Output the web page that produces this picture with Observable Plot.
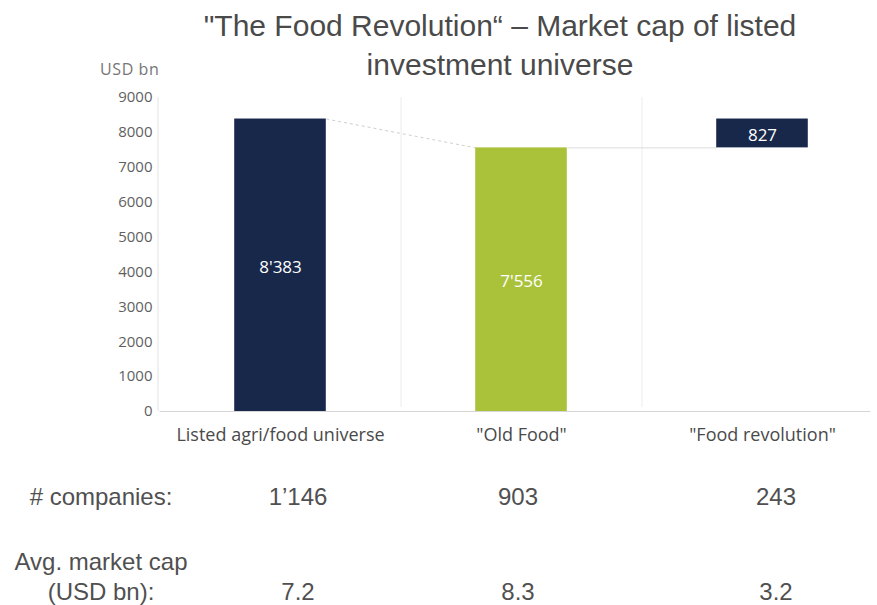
<!DOCTYPE html>
<html>
<head>
<meta charset="utf-8">
<script src="https://cdn.jsdelivr.net/npm/d3@7"></script>
<script src="https://cdn.jsdelivr.net/npm/@observablehq/plot@0.6"></script>
<style>
  html, body { margin: 0; padding: 0; background: #fff; }
  #wrap { position: relative; width: 877px; height: 605px; overflow: hidden; font-family: "Liberation Sans", Arial, sans-serif; }
  .title { position: absolute; left: 100px; width: 800px; text-align: center; font-size: 30px; color: #4a4a4a; line-height: 39px; white-space: nowrap; }
  .unit { position: absolute; left: 100px; top: 58px; font-family: "Open Sans", sans-serif; font-size: 16px; letter-spacing: 0.6px; color: #767676; }
  .cell { position: absolute; transform: translateX(-50%); white-space: nowrap; font-size: 24px; color: #505050; text-align: center; line-height: 30px; }
  #chart { position: absolute; left: 0; top: 0; }
</style>
</head>
<body>
<div id="wrap">
  <div id="chart"></div>
</div>
<script>
// ---- data ----
const titleLines = ["\"The Food Revolution\u201c \u2013 Market cap of listed", "investment universe"];
const unitLabel = "USD bn";
const categories = ["Listed agri/food universe", "\"Old Food\"", "\"Food revolution\""];
const marketCap = [8383, 7556, 827];      // USD bn
const barColors = ["#18284b", "#aac23a", "#18284b"];
const yTicks = [0, 1000, 2000, 3000, 4000, 5000, 6000, 7000, 8000, 9000];
const rowLabels = ["# companies:", "Avg. market cap\n(USD bn):"];
const companies = ["1\u2019146", "903", "243"];
const avgCap = ["7.2", "8.3", "3.2"];

// ---- layout constants ----
const W = 877, H = 460;
const halfBar = 0.19;              // bar half width in band units
const tableColX = [298, 518, 776];  // table column centres (px)
const tableLabelX = 101;

// bars: first two stand on 0, the last one floats on top of "Old Food"
const bars = categories.map((c, i) => {
  const y1 = i === 2 ? marketCap[1] : 0;
  return {i, cat: c, y1, y2: y1 + marketCap[i], label: d3.format(",")(marketCap[i]).replace(/,/g, "'"), color: barColors[i]};
});
const separators = categories.slice(0, -1).map((c, i) => i + 0.5);
const connectors = [
  {x1: 0 + halfBar, y1: bars[0].y2, x2: 1 - halfBar, y2: bars[1].y2, dash: "3,3", stroke: "#cfcfcf"},
  {x1: 1 + halfBar, y1: bars[1].y2, x2: 2 - halfBar, y2: bars[2].y1, dash: null, stroke: "#dcdcdc"}
];

const plot = Plot.plot({
  width: W,
  height: H,
  marginTop: 97,
  marginBottom: 49,
  marginLeft: 158,
  marginRight: 0,
  style: {fontFamily: "'Open Sans', sans-serif", background: "transparent", overflow: "visible"},
  x: {type: "linear", domain: [-0.5, 2.5], range: [159.5, 882.5], axis: null},
  y: {domain: [0, 9000], axis: null},
  marks: [
    Plot.ruleX(separators, {x: d => d, y1: 0, y2: 9000, stroke: "#ececec", strokeWidth: 1, insetTop: -4}),
    Plot.ruleX([-0.5], {y1: 0, y2: 9000, stroke: "#e3e3e3", dx: -2}),
    Plot.ruleY([0], {x1: -0.5, x2: 2.45, stroke: "#d6d6d6"}),
    Plot.axisY({ticks: yTicks, tickSize: 0, tickPadding: 6, fontSize: 15, color: "#5f5f5f", label: null, tickFormat: d => String(d)}),
    Plot.axisX({ticks: [0, 1, 2], tickFormat: i => categories[i], tickSize: 0, tickPadding: 17, fontSize: 18, color: "#4a4a4a", label: null}),
    ...connectors.map(c => Plot.link([c], {x1: "x1", y1: "y1", x2: "x2", y2: "y2", stroke: c.stroke, strokeWidth: 1, strokeDasharray: c.dash})),
    Plot.rectY(bars, {x1: d => d.i - halfBar, x2: d => d.i + halfBar, y1: "y1", y2: "y2", fill: "color"}),
    Plot.text(bars, {x: "i", y: d => (d.y1 + d.y2) / 2, text: "label", fill: "white", fontSize: 17, dy: 2})
  ]
});
document.getElementById("chart").appendChild(plot);

const wrap = document.getElementById("wrap");
titleLines.forEach((t, k) => {
  const el = document.createElement("div");
  el.className = "title";
  el.style.top = (6 + k * 39) + "px";
  el.textContent = t;
  wrap.appendChild(el);
});
const u = document.createElement("div");
u.className = "unit"; u.textContent = unitLabel; wrap.appendChild(u);

function cell(text, x, top) {
  const el = document.createElement("div");
  el.className = "cell";
  el.style.left = x + "px";
  el.style.top = top + "px";
  el.innerHTML = text.split("\n").join("<br>");
  wrap.appendChild(el);
}
cell(rowLabels[0], tableLabelX, 482);
cell(rowLabels[1], tableLabelX, 547);
companies.forEach((v, i) => cell(v, tableColX[i], 482));
avgCap.forEach((v, i) => cell(v, tableColX[i], 577));
</script>
</body>
</html>
